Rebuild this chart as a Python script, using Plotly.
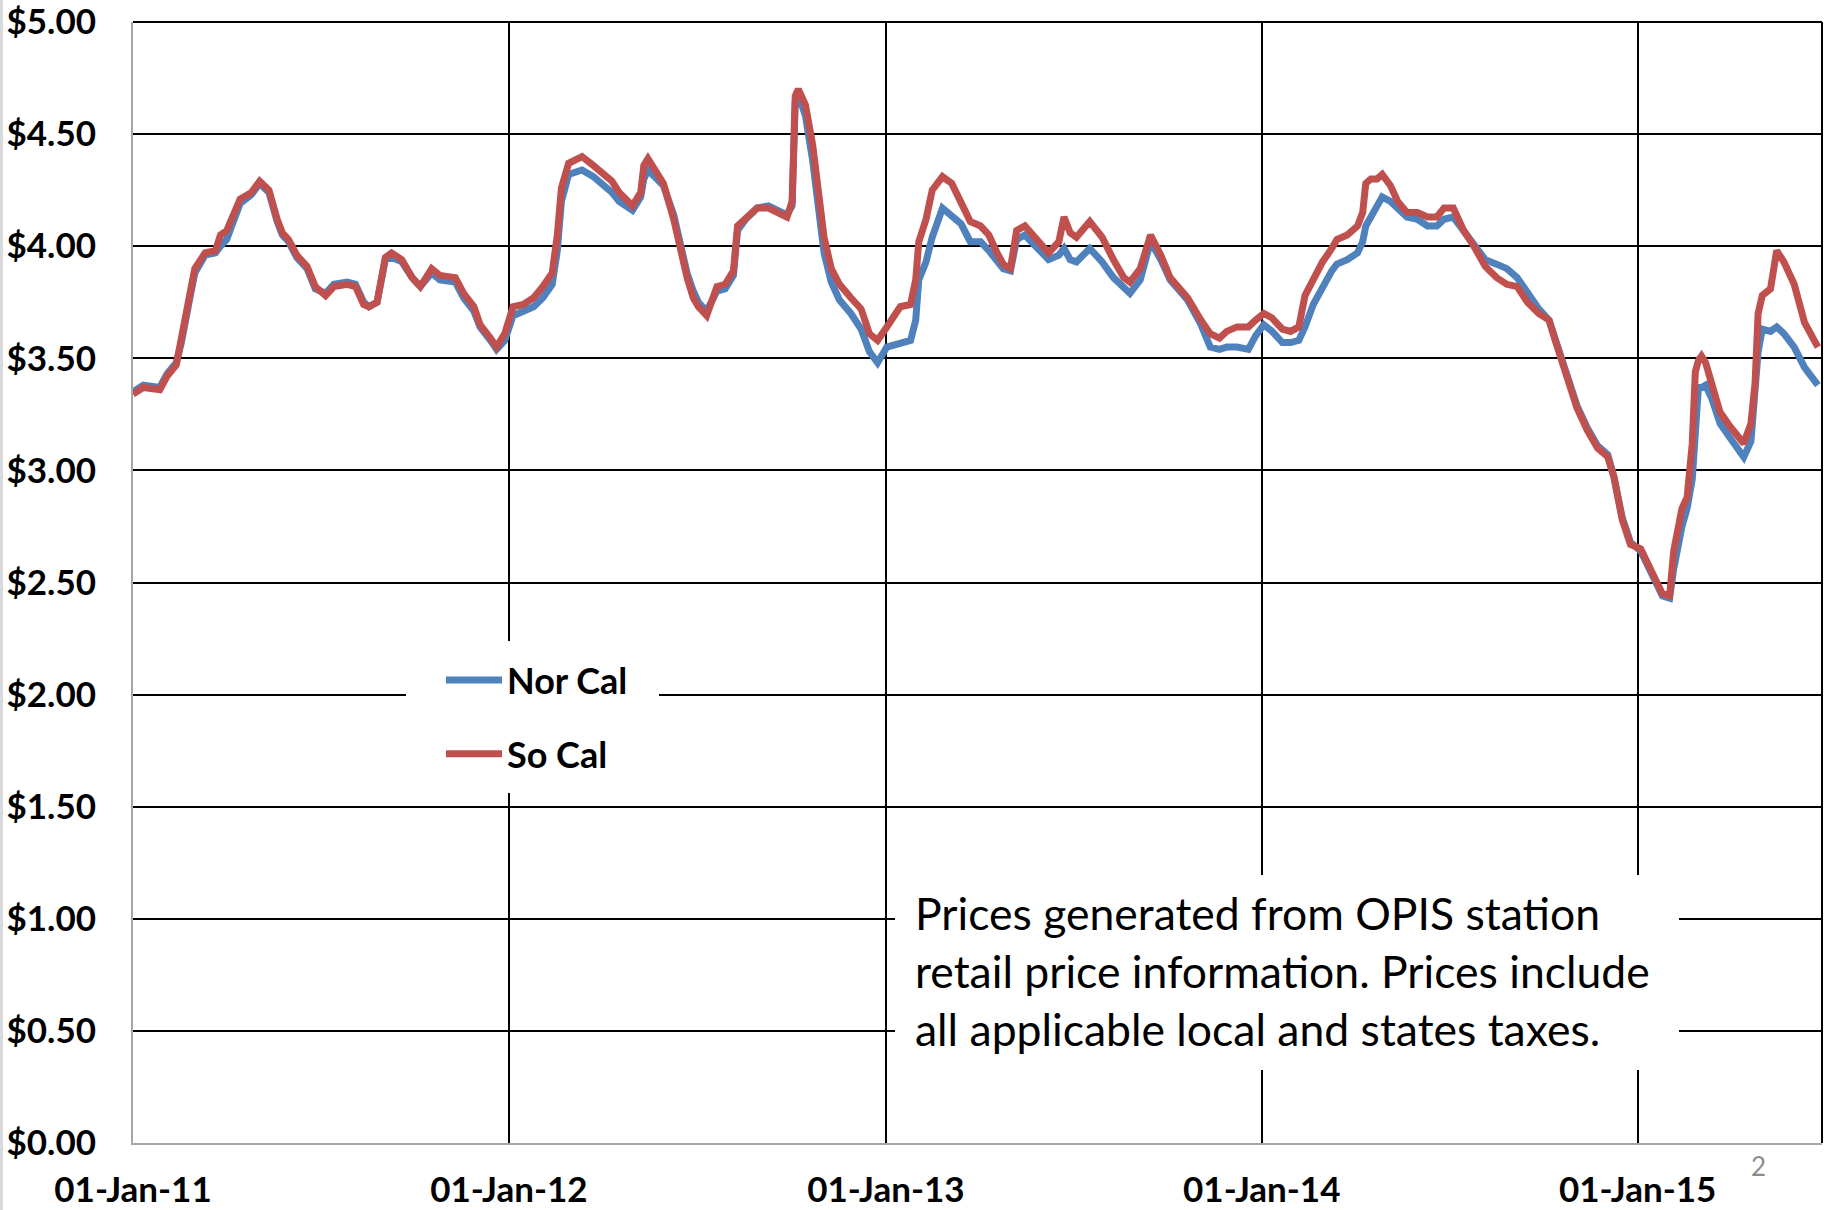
import pandas as pd
import plotly.graph_objects as go

# ---- data ----
start_date = "2011-01-01"
day_offsets = [0,10,26,33,42,47,54,60,70,80,85,91,104,115,123,132,140,145,151,159,169,177,187,195,208,216,224,229,237,242,245,251,261,271,279,290,298,313,321,331,337,347,353,361,369,379,389,398,407,412,416,423,436,447,457,465,472,485,493,496,500,509,515,525,531,538,544,549,557,567,575,583,587,595,606,617,626,635,640,643,646,653,660,666,671,678,686,697,707,715,723,732,745,755,760,763,770,776,786,795,804,813,823,831,839,845,852,858,866,876,889,899,904,910,916,929,941,952,962,968,978,988,998,1007,1024,1037,1046,1055,1062,1072,1083,1090,1098,1106,1116,1124,1132,1138,1146,1155,1164,1169,1179,1189,1194,1197,1202,1208,1213,1221,1228,1237,1247,1257,1266,1273,1282,1292,1302,1313,1324,1334,1344,1354,1365,1375,1381,1388,1394,1402,1412,1422,1432,1438,1446,1454,1464,1472,1479,1485,1492,1496,1504,1509,1514,1517,1520,1523,1527,1533,1541,1550,1558,1564,1571,1575,1578,1582,1590,1596,1603,1613,1623,1636]

so_cal = [3.34,3.37,3.36,3.42,3.47,3.58,3.75,3.90,3.97,3.98,4.05,4.07,4.21,4.24,4.29,4.25,4.12,4.06,4.03,3.96,3.91,3.82,3.78,3.82,3.83,3.82,3.74,3.73,3.75,3.89,3.95,3.97,3.94,3.86,3.82,3.90,3.87,3.86,3.79,3.73,3.65,3.59,3.55,3.61,3.73,3.74,3.77,3.82,3.88,4.05,4.26,4.37,4.40,4.36,4.32,4.29,4.24,4.18,4.24,4.36,4.39,4.32,4.28,4.12,3.99,3.86,3.77,3.73,3.69,3.82,3.83,3.89,4.09,4.12,4.17,4.17,4.15,4.13,4.20,4.67,4.70,4.63,4.45,4.25,4.04,3.90,3.83,3.77,3.72,3.61,3.58,3.64,3.73,3.74,3.85,4.02,4.12,4.25,4.31,4.28,4.20,4.11,4.09,4.05,3.97,3.92,3.90,4.07,4.09,4.04,3.97,4.02,4.13,4.06,4.04,4.11,4.04,3.94,3.86,3.84,3.90,4.05,3.96,3.86,3.77,3.67,3.61,3.59,3.62,3.64,3.64,3.67,3.70,3.68,3.63,3.62,3.64,3.78,3.85,3.93,3.99,4.03,4.05,4.09,4.15,4.28,4.30,4.30,4.32,4.27,4.20,4.15,4.15,4.13,4.13,4.17,4.17,4.07,4.00,3.91,3.86,3.83,3.82,3.75,3.70,3.67,3.58,3.48,3.39,3.28,3.18,3.10,3.06,2.97,2.78,2.67,2.65,2.57,2.50,2.45,2.44,2.64,2.83,2.88,3.12,3.44,3.49,3.51,3.48,3.39,3.26,3.20,3.16,3.12,3.21,3.39,3.70,3.78,3.81,3.98,3.93,3.83,3.66,3.55]

nor_cal = [3.35,3.38,3.37,3.43,3.48,3.57,3.74,3.88,3.96,3.97,4.00,4.03,4.19,4.23,4.28,4.24,4.11,4.05,4.02,3.95,3.90,3.81,3.79,3.83,3.84,3.83,3.75,3.73,3.75,3.87,3.94,3.95,3.93,3.86,3.82,3.88,3.85,3.84,3.77,3.71,3.64,3.58,3.54,3.58,3.69,3.71,3.73,3.77,3.83,3.98,4.20,4.32,4.34,4.31,4.27,4.24,4.20,4.16,4.22,4.30,4.34,4.30,4.27,4.14,4.02,3.88,3.80,3.75,3.71,3.80,3.81,3.87,4.07,4.12,4.17,4.18,4.16,4.14,4.18,4.64,4.68,4.58,4.38,4.18,3.97,3.84,3.76,3.70,3.63,3.53,3.48,3.55,3.57,3.58,3.67,3.85,3.93,4.04,4.17,4.13,4.10,4.02,4.02,3.98,3.93,3.90,3.89,4.03,4.05,4.00,3.94,3.96,3.99,3.94,3.93,3.99,3.93,3.86,3.82,3.79,3.85,4.02,3.94,3.85,3.76,3.65,3.55,3.54,3.55,3.55,3.54,3.60,3.65,3.62,3.57,3.57,3.58,3.64,3.74,3.82,3.89,3.92,3.94,3.97,4.02,4.09,4.13,4.19,4.22,4.20,4.17,4.13,4.12,4.09,4.09,4.12,4.13,4.07,4.00,3.94,3.92,3.90,3.86,3.79,3.72,3.67,3.59,3.49,3.40,3.29,3.19,3.11,3.07,2.97,2.79,2.68,2.64,2.56,2.49,2.44,2.43,2.56,2.75,2.83,2.96,3.20,3.37,3.37,3.38,3.32,3.21,3.15,3.10,3.06,3.13,3.34,3.53,3.63,3.62,3.64,3.61,3.55,3.46,3.38]

series_names = ["Nor Cal", "So Cal"]
series_colors = ["#4F81BD", "#C0504D"]
x_range = ["2011-01-01", "2015-06-29"]
note_text = ("Prices generated from OPIS station<br>"
             "retail price information. Prices include<br>"
             "all applicable local and states taxes.")

assert len(day_offsets) == len(so_cal) == len(nor_cal)
dates = pd.Timestamp(start_date) + pd.to_timedelta(day_offsets, unit="D")

W, H = 1834, 1210
L, R, T, B = 133, 12, 22, 67
pw, ph = W - L - R, H - T - B

def px_x(x):
    return (x - L) / pw

def px_y(y):
    return 1 - (y - T) / ph

fig = go.Figure()
for name, vals, col in zip(series_names, [nor_cal, so_cal], series_colors):
    fig.add_trace(go.Scatter(
        x=dates, y=vals, mode="lines", name=name, legendgroup=name,
        line=dict(color=col, width=7),
    ))

fig.update_layout(
    width=W, height=H,
    margin=dict(l=L, r=R, t=T, b=B, pad=0, autoexpand=False),
    plot_bgcolor="white", paper_bgcolor="white",
    font=dict(family="Lato", color="black"),
    showlegend=True,
    legend=dict(
        x=px_x(441), y=px_y(650), xanchor="left", yanchor="top",
        bgcolor="rgba(0,0,0,0)", borderwidth=0,
        font=dict(family="Lato", size=36, color="black", weight="bold"),
        itemwidth=56, tracegroupgap=24,
    ),
    xaxis=dict(
        type="date", range=x_range, automargin=False,
        tick0="2011-01-01", dtick="M12", tickformat="%d-%b-%y",
        showgrid=True, gridcolor="black", gridwidth=1.5,
        showline=True, linecolor="#A6A6A6", linewidth=2,
        ticks="", ticklabelstandoff=15,
        tickfont=dict(family="Lato", size=35, color="black", weight="bold"),
        ticklabeloverflow="allow", zeroline=False,
    ),
    yaxis=dict(
        range=[0, 5], dtick=0.5, tick0=0, tickformat="$.2f", automargin=False,
        showgrid=True, gridcolor="black", gridwidth=1.5,
        showline=True, linecolor="#A6A6A6", linewidth=2,
        ticks="", ticklabelstandoff=28,
        tickfont=dict(family="Lato", size=35, color="black", weight="bold"),
        ticklabeloverflow="allow", zeroline=False,
    ),
)

# top and right border of the plot area, legend / note backdrops, faint slide edge on the left
fig.add_shape(type="line", xref="paper", yref="paper", x0=0, x1=1, y0=1, y1=1,
              line=dict(color="black", width=2))
fig.add_shape(type="line", xref="paper", yref="paper", x0=1, x1=1, y0=0, y1=1,
              line=dict(color="black", width=2))
fig.add_shape(type="rect", xref="paper", yref="paper", layer="above",
              x0=px_x(406), x1=px_x(659), y0=px_y(793), y1=px_y(641),
              fillcolor="white", line=dict(width=0))
fig.add_shape(type="rect", xref="paper", yref="paper", layer="above",
              x0=px_x(895), x1=px_x(1679), y0=px_y(1070), y1=px_y(875),
              fillcolor="white", line=dict(width=0))
fig.add_shape(type="line", xref="paper", yref="paper", x0=px_x(1.5), x1=px_x(1.5),
              y0=px_y(0), y1=px_y(H), line=dict(color="#D9D9D9", width=3))

fig.add_annotation(
    xref="paper", yref="paper", x=px_x(914), y=px_y(970), xanchor="left", yanchor="middle",
    text=note_text, showarrow=False, align="left",
    font=dict(family="Lato", size=44.5, color="black"), borderpad=0,
)

fig.add_annotation(
    xref="paper", yref="paper", x=px_x(1758), y=px_y(1166), xanchor="center", yanchor="middle",
    text="2", showarrow=False, font=dict(family="Lato", size=26, color="#8C8C8C"),
)

fig.write_html(
    "out.html",
    config={"displayModeBar": False},
    post_script="document.body.style.margin='0';document.body.style.overflow='hidden';",
)
